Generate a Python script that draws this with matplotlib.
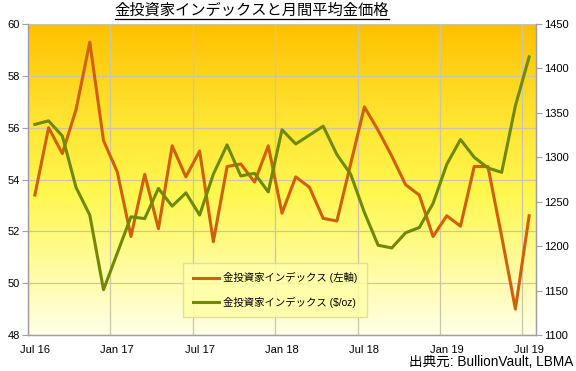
import numpy as np
import matplotlib.pyplot as plt
from matplotlib.colors import LinearSegmentedColormap
from matplotlib.lines import Line2D

plt.rcParams['font.family'] = ['Liberation Sans', 'Noto Sans CJK JP']

# monthly data, Jul 2016 .. Jul 2019
months = ['Jul 16', 'Aug 16', 'Sep 16', 'Oct 16', 'Nov 16', 'Dec 16',
          'Jan 17', 'Feb 17', 'Mar 17', 'Apr 17', 'May 17', 'Jun 17',
          'Jul 17', 'Aug 17', 'Sep 17', 'Oct 17', 'Nov 17', 'Dec 17',
          'Jan 18', 'Feb 18', 'Mar 18', 'Apr 18', 'May 18', 'Jun 18',
          'Jul 18', 'Aug 18', 'Sep 18', 'Oct 18', 'Nov 18', 'Dec 18',
          'Jan 19', 'Feb 19', 'Mar 19', 'Apr 19', 'May 19', 'Jun 19',
          'Jul 19']
investor_index = [53.4, 56.0, 55.0, 56.7, 59.3, 55.5,
                  54.3, 51.8, 54.2, 52.1, 55.3, 54.1,
                  55.1, 51.6, 54.5, 54.6, 53.9, 55.3,
                  52.7, 54.1, 53.7, 52.5, 52.4, 54.6,
                  56.8, 55.9, 54.9, 53.8, 53.4, 51.8,
                  52.6, 52.2, 54.5, 54.5, 51.8, 49.0,
                  52.6]
gold_price = [1337, 1341, 1324, 1266, 1235, 1151,
              1192, 1233, 1231, 1265, 1245, 1260,
              1235, 1281, 1314, 1279, 1282, 1261,
              1331, 1315, 1325, 1335, 1303, 1281,
              1238, 1201, 1198, 1215, 1221, 1248,
              1292, 1320, 1300, 1288, 1283, 1358,
              1413]
label_left = '金投資家インデックス (左軸)'
label_right = '金投資家インデックス ($/oz)'

x = np.arange(len(months))

fig = plt.figure(figsize=(5.76, 3.71), dpi=100)
ax = fig.add_axes([28/576, 36/371, 508/576, 311/371])
ax2 = ax.twinx()

# yellow gradient background
bg = LinearSegmentedColormap.from_list('bg', [(0.0, '#FFFFE8'), (0.45, '#FFF850'),
                                              (0.75, '#FFDF2A'), (1.0, '#FFC000')])
grad = np.linspace(0, 1, 256).reshape(-1, 1)
ax.imshow(grad, cmap=bg, origin='lower', extent=[0, 1, 0, 1], transform=ax.transAxes,
          aspect='auto', zorder=0)

ax.plot(x, investor_index, color='#D0600C', lw=2.2, zorder=3)
ax2.plot(x, gold_price, color='#6F8A06', lw=2.2, zorder=3)

ax.set_xlim(-0.5, len(months) - 0.5)
ax.set_ylim(48, 60)
ax2.set_ylim(1100, 1450)
ax.set_yticks(np.arange(48, 61, 2))
ax2.set_yticks(np.arange(1100, 1451, 50))

# labels every 6 months at the point, gridlines between months
ax.set_xticks(x[::6])
ax.set_xticklabels(months[::6])
ax.set_xticks(np.arange(-0.5, len(months), 6), minor=True)
ax.tick_params(axis='x', which='major', length=0, pad=7, labelsize=8)
ax.tick_params(axis='x', which='minor', length=0)
ax.tick_params(axis='y', length=4, color='#A0A0A0', labelsize=8, pad=2)
ax2.tick_params(axis='y', length=4, color='#A0A0A0', labelsize=8, pad=2)
ax.grid(True, which='minor', axis='x', color='#CCC6A8', lw=0.9)
ax.grid(True, which='major', axis='y', color='#CCC6A8', lw=0.9)
ax.set_axisbelow(True)

for a in (ax, ax2):
    a.spines['top'].set_visible(False)
    for s in ('left', 'right', 'bottom'):
        a.spines[s].set_color('#A0A0A0')
        a.spines[s].set_linewidth(0.9)

handles = [Line2D([], [], color='#D0600C', lw=2.2),
           Line2D([], [], color='#6F8A06', lw=2.2)]
leg = ax2.legend(handles, [label_left, label_right], loc='center',
                 bbox_to_anchor=(0.486, 0.145), fontsize=7.5, frameon=True,
                 fancybox=False, handlelength=2.5, handletextpad=0.4,
                 labelspacing=1.25, borderpad=0.9, borderaxespad=0)
leg.get_frame().set_facecolor('#FFFFA8')
leg.get_frame().set_edgecolor('#E0DC90')
leg.get_frame().set_alpha(0.85)

# title with underline
title = fig.text(252/576, 1 - 11/371, '金投資家インデックスと月間平均金価格',
                 ha='center', va='center', fontsize=11)
fig.canvas.draw()
bb = title.get_window_extent(renderer=fig.canvas.get_renderer())
fig_w, fig_h = fig.bbox.width, fig.bbox.height
uy = 1 - 19/371
fig.add_artist(Line2D([bb.x0/fig_w, bb.x1/fig_w], [uy, uy], color='black', lw=0.9))

fig.text(573/576, 1 - 362/371, '出典元: BullionVault, LBMA', ha='right', va='center',
         fontsize=9.8)

fig.savefig('out.png', dpi=100)
